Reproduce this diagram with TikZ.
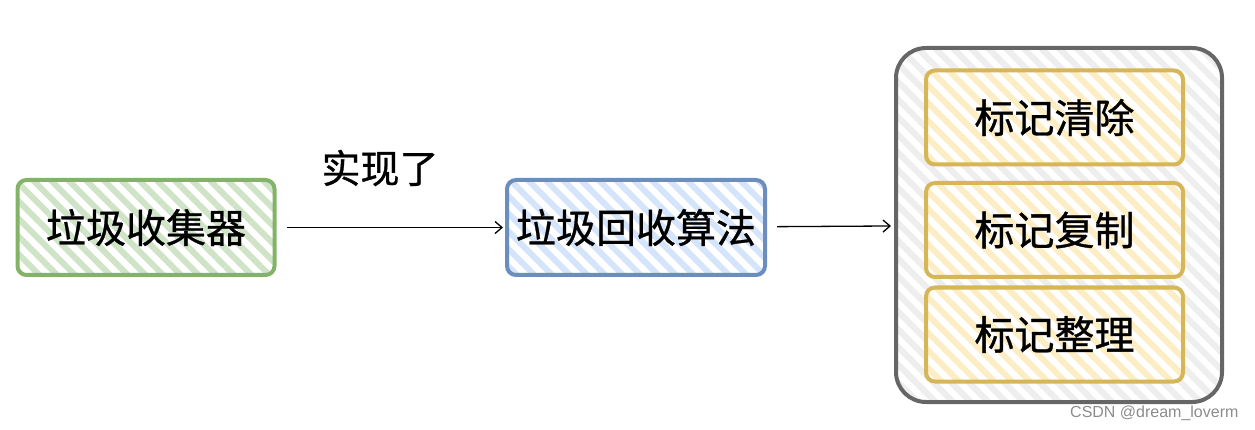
\documentclass[tikz,border=0pt]{standalone}
\usepackage{fontspec}
\newfontfamily\cjk[BoldFont={Noto Sans CJK SC},BoldFeatures={FakeBold=0.8}]{Noto Sans CJK SC}
\newfontfamily\wmfont{Liberation Sans}
\usepackage{tikz}
\usetikzlibrary{arrows.meta,patterns.meta,positioning}
\definecolor{gcstroke}{HTML}{82B366}
\definecolor{gcfill}{HTML}{CFE4C6}
\definecolor{algstroke}{HTML}{6C8EBF}
\definecolor{algfill}{HTML}{D4E4FA}
\definecolor{mkstroke}{HTML}{D6B656}
\definecolor{mkfill}{HTML}{FCEDC4}
\definecolor{grpstroke}{HTML}{666666}
\definecolor{grpfill}{HTML}{EEEEEE}
\tikzset{
    >={Straight Barb[length=7pt,width=12pt]}, % open arrowhead
    % hatched sketch box, #1 = stripe colour
    hatchbox/.style={
        preaction={fill=white},
        pattern={Lines[angle=-45,distance=12.5pt,line width=6pt]},
        pattern color=#1,
        line width=4pt, rounded corners=9pt,
        font=\cjk\bfseries\fontsize{40}{46}\selectfont, text=black
    },
    gcbox/.style={hatchbox=gcfill, draw=gcstroke, minimum width=257pt, minimum height=95pt},
    algbox/.style={hatchbox=algfill, draw=algstroke, minimum width=258pt, minimum height=95pt},
    markbox/.style={hatchbox=mkfill, draw=mkstroke, minimum width=257pt, minimum height=94pt},
    groupbox/.style={hatchbox=white, preaction={fill=grpfill}, draw=grpstroke,
        rounded corners=30pt, minimum width=326pt, minimum height=354pt},
    flowline/.style={->, line width=1.3pt, shorten <=10pt, shorten >=2pt},
    textlabel/.style={font=\cjk\bfseries\fontsize{39}{44}\selectfont, text=black}
}
\begin{document}
\begin{tikzpicture}[x=1pt,y=-1pt]
  \useasboundingbox (0,0) rectangle (1255,430);

  % left and middle boxes
  \node[gcbox] (collector) at (146,227.5) {垃圾收集器};
  \node[algbox] (algorithm) at (636,227.5) {垃圾回收算法};

  % group of marking algorithms
  \node[groupbox] (group) at (1059,225) {};
  \node[markbox] (sweep) at (1054.5,117.5) {标记清除};
  \node[markbox] (copy) at (1054.5,230) {标记复制};
  \node[markbox] (compact) at (1054.5,334.5) {标记整理};

  % connectors
  \draw[flowline] (collector) -- (algorithm);
  \draw[flowline, shorten >=3pt] (algorithm) -- (group);
  \node[textlabel] (impl) at (380,168) {实现了};

  % watermark
  \node[font=\wmfont\fontsize{16}{18}\selectfont, text=black!45, anchor=east] (mark) at (1242,413) {CSDN @dream\_loverm};
\end{tikzpicture}
\end{document}
